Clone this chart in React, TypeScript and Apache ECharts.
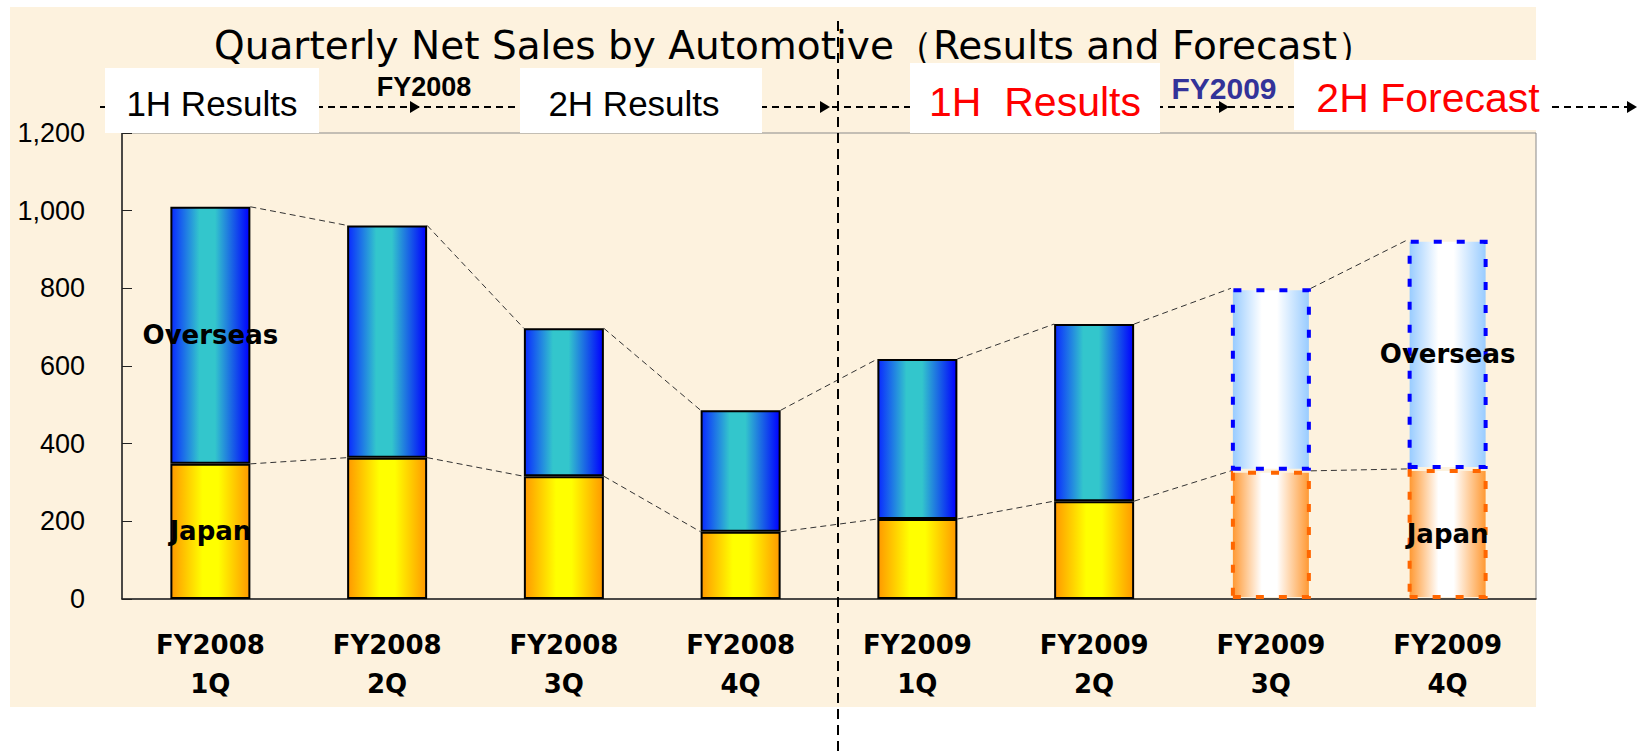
import React, { useEffect, useRef } from "react";
import * as echarts from "echarts";

const categories = [
  "FY2008\n1Q",
  "FY2008\n2Q",
  "FY2008\n3Q",
  "FY2008\n4Q",
  "FY2009\n1Q",
  "FY2009\n2Q",
  "FY2009\n3Q",
  "FY2009\n4Q",
];
const japanSales = [348, 364, 316, 173, 206, 252, 330, 335];
const overseasSales = [662, 598, 381, 313, 412, 456, 470, 590];
const isForecast = [false, false, false, false, false, false, true, true];
const segmentLabelIndex = [0, 7];
const yMin = 0;
const yMax = 1200;
const yInterval = 200;

const titleText = "Quarterly Net Sales by Automotive（Results and Forecast）";

const BAR_WIDTH = 80;

const overseasGrad = new echarts.graphic.LinearGradient(0, 0, 1, 0, [
  { offset: 0, color: "#0a2bff" },
  { offset: 0.36, color: "#33c6cc" },
  { offset: 0.56, color: "#33c6cc" },
  { offset: 1, color: "#0000ff" },
]);
const japanGrad = new echarts.graphic.LinearGradient(0, 0, 1, 0, [
  { offset: 0, color: "#ff9900" },
  { offset: 0.4, color: "#ffff00" },
  { offset: 0.6, color: "#ffff00" },
  { offset: 1, color: "#ff9900" },
]);
const overseasFcGrad = new echarts.graphic.LinearGradient(0, 0, 1, 0, [
  { offset: 0, color: "#99ccff" },
  { offset: 0.38, color: "#ffffff" },
  { offset: 0.58, color: "#ffffff" },
  { offset: 1, color: "#99ccff" },
]);
const japanFcGrad = new echarts.graphic.LinearGradient(0, 0, 1, 0, [
  { offset: 0, color: "#ff9933" },
  { offset: 0.38, color: "#ffffff" },
  { offset: 0.58, color: "#ffffff" },
  { offset: 1, color: "#ff9933" },
]);

const labelStyle = {
  show: true,
  position: "inside" as const,
  color: "#000",
  fontFamily: "DejaVu Sans",
  fontWeight: "bold" as const,
  fontSize: 26,
};

function buildBarData(values: number[], name: string, grad: any, fcGrad: any, fcBorder: string) {
  return values.map((v, i) => {
    const item: any = { value: v };
    if (isForecast[i]) {
      item.itemStyle = {
        color: fcGrad,
        borderColor: fcBorder,
        borderWidth: 4,
        borderType: [8, 15],
      };
    } else {
      item.itemStyle = { color: grad, borderColor: "#000", borderWidth: 2 };
    }
    if (segmentLabelIndex.includes(i)) {
      item.label = { ...labelStyle, formatter: name };
    }
    return item;
  });
}

function connectorRender(params: any, api: any) {
  const p1 = api.coord([api.value(0), api.value(1)]);
  const p2 = api.coord([api.value(0) + 1, api.value(2)]);
  return {
    type: "line",
    shape: { x1: p1[0] + BAR_WIDTH / 2, y1: p1[1], x2: p2[0] - BAR_WIDTH / 2, y2: p2[1] },
    style: { stroke: "#333", lineWidth: 1, lineDash: [6, 4] },
  };
}

export default function App() {
  const ref = useRef<HTMLDivElement>(null);
  useEffect(() => {
    document.body.style.margin = "0";
    if (!ref.current) return;
    const chart = echarts.init(ref.current, undefined, { renderer: "svg" });
    const totals = japanSales.map((v, i) => v + overseasSales[i]);
    const topConnectors = totals.slice(0, -1).map((v, i) => [i, v, totals[i + 1]]);
    const japanConnectors = japanSales.slice(0, -1).map((v, i) => [i, v, japanSales[i + 1]]);

    const arrowXs = [420, 830, 1229, 1637];
    const graphic: any[] = [
      {
        type: "rect",
        z: -100,
        silent: true,
        shape: { x: 10, y: 7, width: 1526, height: 700 },
        style: { fill: "#fdf2de" },
      },
      {
        type: "text",
        z: 10,
        style: {
          text: titleText,
          x: 795,
          y: 45,
          fill: "#000",
          fontFamily: "DejaVu Sans",
          fontSize: 39,
          textAlign: "center",
          textVerticalAlign: "middle",
          verticalAlign: "middle",
        },
      },
      {
        type: "line",
        z: 10,
        shape: { x1: 100, y1: 107, x2: 1630, y2: 107 },
        style: { stroke: "#000", lineWidth: 2, lineDash: [7, 5] },
      },
      ...arrowXs.map((x) => ({
        type: "polygon",
        z: 11,
        shape: { points: [[x - 10, 101], [x, 107], [x - 10, 113]] },
        style: { fill: "#000" },
      })),
      { type: "rect", z: 12, shape: { x: 105, y: 68, width: 214, height: 65 }, style: { fill: "#fff" } },
      { type: "rect", z: 12, shape: { x: 520, y: 68, width: 242, height: 65 }, style: { fill: "#fff" } },
      { type: "rect", z: 12, shape: { x: 910, y: 63, width: 250, height: 70 }, style: { fill: "#fff" } },
      { type: "rect", z: 12, shape: { x: 1294, y: 60, width: 256, height: 70 }, style: { fill: "#fff" } },
      ...[
        { t: "1H Results", x: 212, y: 103, c: "#000", s: 35, w: "normal" },
        { t: "2H Results", x: 634, y: 103, c: "#000", s: 35, w: "normal" },
        { t: "FY2008", x: 424, y: 87, c: "#000", s: 27, w: "bold" },
        { t: "1H  Results", x: 1035, y: 102, c: "#ff0000", s: 41, w: "normal" },
        { t: "FY2009", x: 1224, y: 88, c: "#333399", s: 30, w: "bold" },
        { t: "2H Forecast", x: 1428, y: 98, c: "#ff0000", s: 41, w: "normal" },
      ].map((d) => ({
        type: "text",
        z: 13,
        style: {
          text: d.t,
          x: d.x,
          y: d.y,
          fill: d.c,
          fontFamily: "Liberation Sans",
          fontWeight: d.w,
          fontSize: d.s,
          textAlign: "center",
          textVerticalAlign: "middle",
          verticalAlign: "middle",
        },
      })),
      {
        type: "line",
        z: 20,
        shape: { x1: 838, y1: 21, x2: 838, y2: 751 },
        style: { stroke: "#000", lineWidth: 2, lineDash: [10, 6] },
      },
    ];

    chart.setOption({
      animation: false,
      grid: {
        left: 122,
        right: 111,
        top: 133,
        bottom: 152,
        show: true,
        borderColor: "#8a8a8a",
        borderWidth: 1,
        backgroundColor: "transparent",
      },
      xAxis: {
        type: "category",
        data: categories,
        axisLine: { lineStyle: { color: "#222", width: 1.5 } },
        axisTick: { inside: true, length: 10, lineStyle: { color: "#222" } },
        axisLabel: {
          color: "#000",
          fontFamily: "DejaVu Sans",
          fontWeight: "bold",
          fontSize: 26,
          lineHeight: 39,
          margin: 26,
        },
      },
      yAxis: {
        type: "value",
        min: yMin,
        max: yMax,
        interval: yInterval,
        splitLine: { show: false },
        axisLine: { show: true, lineStyle: { color: "#222", width: 1.5 } },
        axisTick: { show: true, inside: true, length: 10, lineStyle: { color: "#222" } },
        axisLabel: {
          color: "#000",
          fontFamily: "Liberation Sans",
          fontSize: 27,
          margin: 37,
          formatter: (v: number) => v.toLocaleString("en-US"),
        },
      },
      series: [
        {
          name: "Japan",
          type: "bar",
          stack: "total",
          barWidth: BAR_WIDTH,
          data: buildBarData(japanSales, "Japan", japanGrad, japanFcGrad, "#ff6600"),
        },
        {
          name: "Overseas",
          type: "bar",
          stack: "total",
          barWidth: BAR_WIDTH,
          data: buildBarData(overseasSales, "Overseas", overseasGrad, overseasFcGrad, "#0000ff"),
        },
        {
          type: "custom",
          renderItem: connectorRender,
          data: topConnectors,
          encode: { x: 0, y: 1 },
          z: 5,
          silent: true,
        },
        {
          type: "custom",
          renderItem: connectorRender,
          data: japanConnectors,
          encode: { x: 0, y: 1 },
          z: 5,
          silent: true,
        },
      ],
      graphic,
    });
    return () => chart.dispose();
  }, []);
  return <div ref={ref} style={{ width: 1647, height: 751 }} />;
}
